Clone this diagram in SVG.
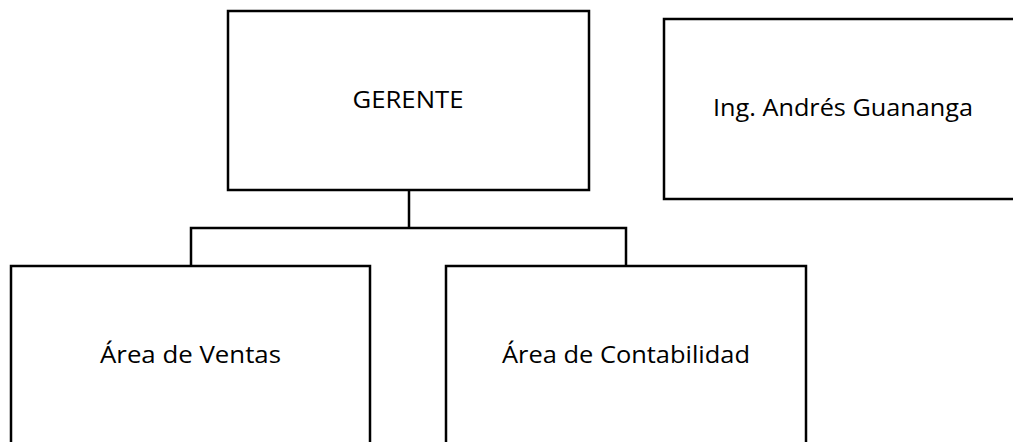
<svg xmlns="http://www.w3.org/2000/svg" width="1013" height="442" viewBox="0 0 1013 442">
<style>
.box{fill:#fff;stroke:#000;stroke-width:2.5}
.lbl{font-family:"Open Sans","Liberation Sans",sans-serif;font-size:23px;fill:#000;text-anchor:middle}
.conn{fill:none;stroke:#000;stroke-width:2.5}
</style>
<rect width="1013" height="442" fill="#fff"/>
<g id="connectors">
<path class="conn" d="M409,190 V228 M191,266 V228 H626 V266"/>
</g>
<g id="gerente">
<rect class="box" x="228" y="11" width="361" height="179"/>
<text class="lbl" x="408" y="108" textLength="111" lengthAdjust="spacingAndGlyphs">GERENTE</text>
</g>
<g id="ing">
<rect class="box" x="664" y="19" width="352" height="180"/>
<text class="lbl" x="843" y="116" textLength="260" lengthAdjust="spacingAndGlyphs">Ing. Andrés Guananga</text>
</g>
<g id="ventas">
<rect class="box" x="11" y="266" width="359" height="190"/>
<text class="lbl" x="190.5" y="363" textLength="181" lengthAdjust="spacingAndGlyphs">Área de Ventas</text>
</g>
<g id="contabilidad">
<rect class="box" x="446" y="266" width="360" height="190"/>
<text class="lbl" x="626" y="363" textLength="248" lengthAdjust="spacingAndGlyphs">Área de Contabilidad</text>
</g>
</svg>
